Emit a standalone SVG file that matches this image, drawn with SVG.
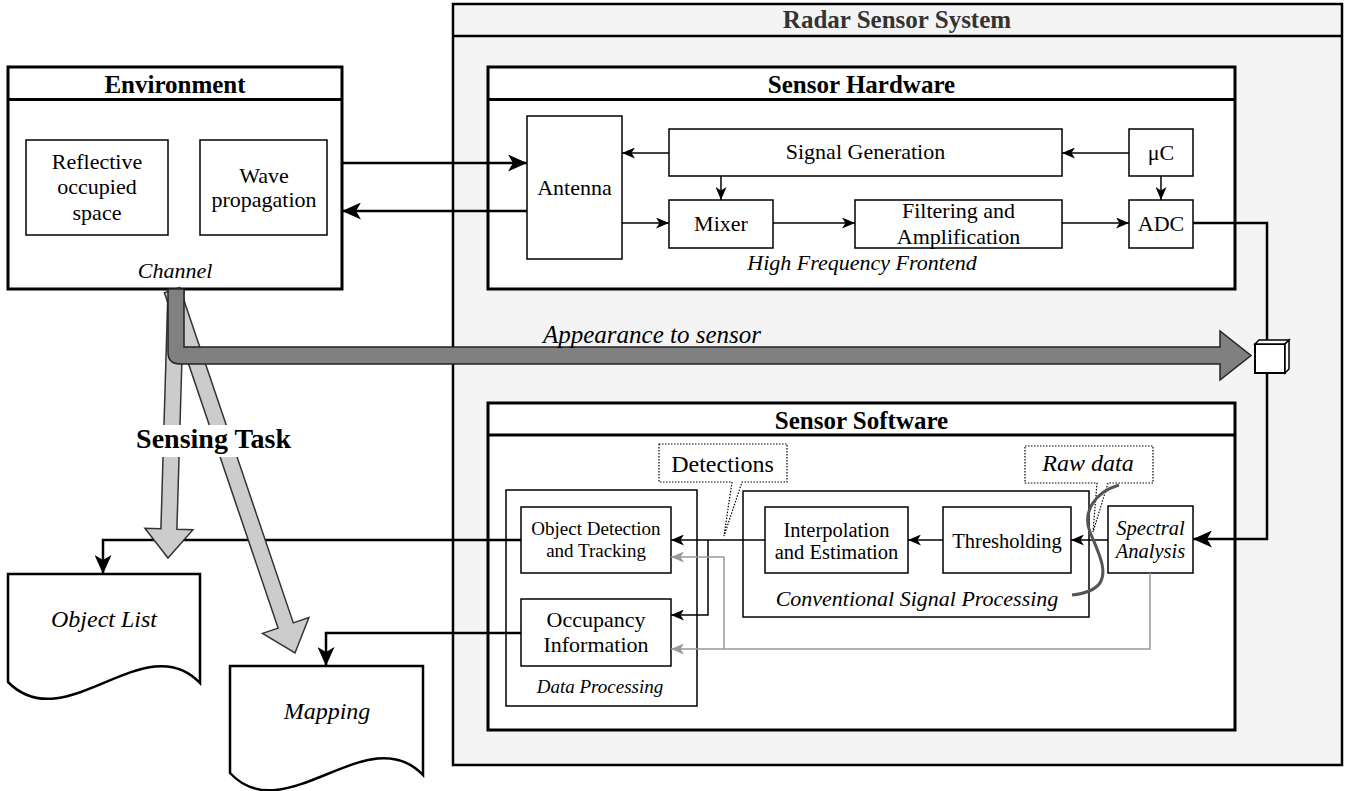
<svg xmlns="http://www.w3.org/2000/svg" width="1349" height="791" viewBox="0 0 1349 791" font-family="'Liberation Serif', 'Times New Roman', serif">
<defs>
<style>
.box{fill:#fff;stroke:#000;stroke-width:1.5}
.main{fill:#fff;stroke:#000;stroke-width:3}
.t{font-family:"Liberation Serif","Times New Roman",serif;font-size:22px;text-anchor:middle;fill:#000}
.i{font-style:italic}
.b{font-weight:bold;font-size:25px}
.s{font-size:20.5px}
.xs{font-size:19px}
.ln{fill:none;stroke:#000;stroke-width:1.5}
.lnb{fill:none;stroke:#000;stroke-width:2.5}
.lng{fill:none;stroke:#999;stroke-width:1.5}
.call{fill:#fff;stroke:#000;stroke-width:1.2;stroke-dasharray:1.5 1.5}
.sens{fill:#ccc;stroke:#333;stroke-width:1.5}
</style>
<marker id="a" markerUnits="userSpaceOnUse" markerWidth="13" markerHeight="11" refX="13" refY="5.5" orient="auto"><path d="M0,0 L13,5.5 L0,11 L3.5,5.5 Z" fill="#000"/></marker>
<marker id="ag" markerUnits="userSpaceOnUse" markerWidth="13" markerHeight="11" refX="13" refY="5.5" orient="auto"><path d="M0,0 L13,5.5 L0,11 L3.5,5.5 Z" fill="#999"/></marker>
<marker id="ab" markerUnits="userSpaceOnUse" markerWidth="19" markerHeight="17" refX="19" refY="8.5" orient="auto"><path d="M0,0 L19,8.5 L0,17 L5,8.5 Z" fill="#000"/></marker>
</defs>
<rect width="1349" height="791" fill="#fff"/>

<g id="radar-sensor-system">
<rect x="453" y="4" width="889" height="761" fill="#f4f4f4" stroke="#000" stroke-width="2.5"/>
<line x1="453" y1="36" x2="1342" y2="36" stroke="#000" stroke-width="2.5"/>
<text class="t b" x="897" y="28" style="fill:#333">Radar Sensor System</text>
</g>

<g id="environment">
<rect class="main" x="8" y="67" width="334" height="222"/>
<line x1="8" y1="99.5" x2="342" y2="99.5" stroke="#000" stroke-width="3"/>
<text class="t b" x="175" y="93">Environment</text>
<text class="t i" x="175" y="278">Channel</text>
</g>
<g id="reflective">
<rect class="box" x="26" y="140" width="142" height="95"/>
<text class="t" x="97" y="169">Reflective</text>
<text class="t" x="97" y="194">occupied</text>
<text class="t" x="97" y="220">space</text>
</g>
<g id="wave">
<rect class="box" x="200" y="140" width="127" height="95"/>
<text class="t" x="264" y="183">Wave</text>
<text class="t" x="264" y="207">propagation</text>
</g>

<g id="sensor-hardware">
<rect class="main" x="488" y="67" width="747" height="222"/>
<line x1="488" y1="99.5" x2="1235" y2="99.5" stroke="#000" stroke-width="3"/>
<text class="t b" x="861.5" y="93">Sensor Hardware</text>
<text class="t i" x="862" y="270">High Frequency Frontend</text>
</g>
<g id="antenna"><rect class="box" x="527" y="116" width="95" height="143"/><text class="t" x="574.5" y="195">Antenna</text></g>
<g id="signal-generation"><rect class="box" x="669" y="129" width="393" height="47"/><text class="t" x="865.5" y="159">Signal Generation</text></g>
<g id="uc"><rect class="box" x="1129" y="129" width="64" height="47"/><text class="t" x="1161" y="160">μC</text></g>
<g id="mixer"><rect class="box" x="669" y="200" width="104" height="48"/><text class="t" x="721" y="231">Mixer</text></g>
<g id="filtering"><rect class="box" x="855" y="200" width="207" height="48"/><text class="t" x="958.5" y="218">Filtering and</text><text class="t" x="958.5" y="244">Amplification</text></g>
<g id="adc"><rect class="box" x="1129" y="200" width="64" height="48"/><text class="t" x="1161" y="231">ADC</text></g>

<g id="sensor-software">
<rect class="main" x="488" y="403" width="747" height="327"/>
<line x1="488" y1="435" x2="1235" y2="435" stroke="#000" stroke-width="3"/>
<text class="t b" x="861.5" y="429">Sensor Software</text>
</g>
<g id="data-processing">
<rect class="box" x="506" y="490" width="191" height="216"/>
<text class="t i xs" x="600" y="693">Data Processing</text>
</g>
<g id="object-detection"><rect class="box" x="521" y="507" width="150" height="66"/><text class="t xs" x="596" y="535">Object Detection</text><text class="t xs" x="596" y="557">and Tracking</text></g>
<g id="occupancy"><rect class="box" x="521" y="599" width="150" height="67"/><text class="t" x="596" y="627">Occupancy</text><text class="t" x="596" y="652">Information</text></g>
<g id="conventional-signal-processing">
<rect class="box" x="743" y="491" width="346" height="126"/>
<text class="t i" x="917" y="606">Conventional Signal Processing</text>
</g>
<g id="interpolation"><rect class="box" x="765" y="507" width="143" height="66"/><text class="t s" x="836.5" y="537">Interpolation</text><text class="t s" x="836.5" y="559">and Estimation</text></g>
<g id="thresholding"><rect class="box" x="943" y="507" width="128" height="66"/><text class="t s" x="1007" y="548">Thresholding</text></g>
<g id="spectral-analysis"><rect class="box" x="1108" y="506" width="85" height="67"/><text class="t i s" x="1150.5" y="535">Spectral</text><text class="t i s" x="1150.5" y="558">Analysis</text></g>

<g id="object-list">
<path d="M8,574 H200 V683 C145,625 65,740 8,682 Z" fill="#fff" stroke="#000" stroke-width="2.5"/>
<text class="t i" x="104" y="627" style="font-size:24px">Object List</text>
</g>
<g id="mapping">
<path d="M230,666 H423 V775 C368,717 285,832 230,773 Z" fill="#fff" stroke="#000" stroke-width="2.5"/>
<text class="t i" x="327" y="719" style="font-size:24px">Mapping</text>
</g>

<g id="connectors">
<path class="lnb" d="M342,163 H527" marker-end="url(#ab)"/>
<path class="lnb" d="M527,211 H342" marker-end="url(#ab)"/>
<path class="ln" d="M669,153 H622" marker-end="url(#a)"/>
<path class="ln" d="M721,176 V200" marker-end="url(#a)"/>
<path class="ln" d="M622,223 H669" marker-end="url(#a)"/>
<path class="ln" d="M773,223 H855" marker-end="url(#a)"/>
<path class="ln" d="M1062,223 H1129" marker-end="url(#a)"/>
<path class="ln" d="M1129,153 H1062" marker-end="url(#a)"/>
<path class="ln" d="M1161,176 V200" marker-end="url(#a)"/>
<path class="lnb" d="M1193,223 H1267 V539 H1193" marker-end="url(#ab)"/>
<path class="ln" d="M1108,540 H1071" marker-end="url(#a)"/>
<path class="ln" d="M943,540 H908" marker-end="url(#a)"/>
<path class="ln" d="M765,540 H671" marker-end="url(#a)"/>
<path class="ln" d="M708,540 V615 H671" marker-end="url(#a)"/>
<path class="lng" d="M1150,573 V649 H671" marker-end="url(#ag)"/>
<path class="lng" d="M724,649 V557 H671" marker-end="url(#ag)"/>
<path class="lnb" d="M521,540 H103 V574" marker-end="url(#ab)"/>
<path class="lnb" d="M521,633 H326 V666" marker-end="url(#ab)"/>
</g>

<g id="cube">
<rect x="1255" y="344" width="30" height="29" fill="#fff" stroke="#000" stroke-width="2"/>
<path d="M1255,344 L1259,340 H1289 L1285,344 Z" fill="#fff" stroke="#000" stroke-width="1.5"/>
<path d="M1285,344 L1289,340 V369 L1285,373 Z" fill="#fff" stroke="#000" stroke-width="1.5"/>
</g>

<g id="sensing-task">
<polygon class="sens" points="168,289.8 184,290.2 176.9,529.2 192.9,529.7 168,558 144.9,528.3 160.9,528.8"/>
<polygon class="sens" points="164.4,292.6 179.6,287.4 293.3,622.9 308.9,617.6 295,653 262.5,633.4 278.1,628.1"/>
</g>

<g id="appearance-to-sensor">
<path d="M168,289 V352 Q168,364 180,364 H1220 V380 L1251,355.5 L1220,331 V347 H184 V289 Z" fill="#808080" stroke="#222" stroke-width="1.5"/>
<text class="t i" x="652" y="343" style="font-size:25px">Appearance to sensor</text>
</g>

<g id="sensing-task-label">
<rect x="130" y="425" width="163" height="32" fill="#fff"/>
<text class="t b" x="291" y="448" style="text-anchor:end;font-size:28px">Sensing Task</text>
</g>

<g id="detections-callout">
<path class="call" d="M659,444 H787 V482 H742 L724,536 L732,482 H659 Z"/>
<text class="t" x="722.5" y="472" style="font-size:24px">Detections</text>
</g>
<g id="raw-data-callout">
<path class="call" d="M1025,446 H1153 V483 H1108 L1093,532 L1097,483 H1025 Z"/>
<text class="t i" x="1088" y="471" style="font-size:24px">Raw data</text>
</g>
<path id="cut" d="M1119,485 C1095,492 1082,512 1090,532 C1098,552 1108,570 1100,583 C1094,591 1082,594 1072,595" fill="none" stroke="#555" stroke-width="3"/>
</svg>
